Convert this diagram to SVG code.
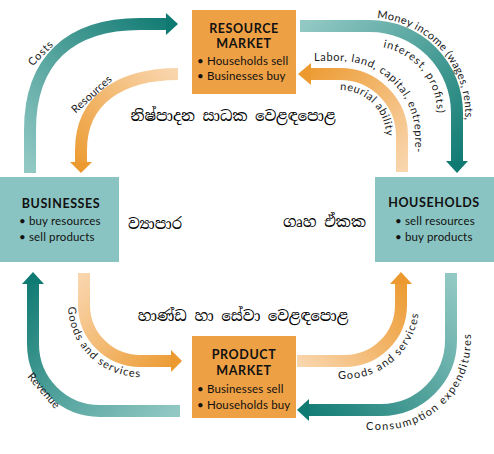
<svg xmlns="http://www.w3.org/2000/svg" width="494" height="454" viewBox="0 0 494 454">
<defs>
<style>
.bo{fill:#eea045}
.bt{fill:#8ac4c2}
.ttl{font-family:Lato,"Open Sans",sans-serif;font-weight:bold;font-size:12.5px;letter-spacing:0.6px;fill:#111;text-anchor:middle}
.itm{font-family:Lato,"Open Sans",sans-serif;font-size:11.5px;letter-spacing:0.15px;fill:#111}
.lbl{font-family:Lato,"Open Sans",sans-serif;font-size:11px;fill:#1a1a1a}
.si{font-family:"Iskoola Pota","Noto Serif Sinhala","Noto Sans Sinhala","LKLUG",serif;font-size:15px;fill:#000}
.band{fill:none;stroke-width:12}
</style>
<linearGradient id="gCosts" gradientUnits="userSpaceOnUse" x1="30" y1="173" x2="178" y2="24"><stop offset="0" stop-color="#93c9c5"/><stop offset="1" stop-color="#0f7a72"/></linearGradient>
<linearGradient id="gMoney" gradientUnits="userSpaceOnUse" x1="300" y1="26" x2="457" y2="172"><stop offset="0" stop-color="#93c9c5"/><stop offset="1" stop-color="#0f7a72"/></linearGradient>
<linearGradient id="gCons" gradientUnits="userSpaceOnUse" x1="451" y1="273" x2="297" y2="411"><stop offset="0" stop-color="#93c9c5"/><stop offset="1" stop-color="#0f7a72"/></linearGradient>
<linearGradient id="gRev" gradientUnits="userSpaceOnUse" x1="180" y1="411" x2="33" y2="273"><stop offset="0" stop-color="#93c9c5"/><stop offset="1" stop-color="#0f7a72"/></linearGradient>
<linearGradient id="gRes" gradientUnits="userSpaceOnUse" x1="178" y1="74" x2="81" y2="173"><stop offset="0" stop-color="#f9d6ae"/><stop offset="1" stop-color="#ec9a30"/></linearGradient>
<linearGradient id="gLab" gradientUnits="userSpaceOnUse" x1="402" y1="172" x2="298" y2="74"><stop offset="0" stop-color="#f9d6ae"/><stop offset="1" stop-color="#ec9a30"/></linearGradient>
<linearGradient id="gGL" gradientUnits="userSpaceOnUse" x1="84" y1="273" x2="182" y2="361"><stop offset="0" stop-color="#f9d6ae"/><stop offset="1" stop-color="#ec9a30"/></linearGradient>
<linearGradient id="gGR" gradientUnits="userSpaceOnUse" x1="297" y1="361" x2="401" y2="273"><stop offset="0" stop-color="#f9d6ae"/><stop offset="1" stop-color="#ec9a30"/></linearGradient>
<path id="tpMoney" d="M300,18 L370,18 A95,95 0 0 1 465,113 L465,180"/>
<path id="tpInt" d="M370,46 A67,67 0 0 1 437,113 L437,180"/>
<path id="tpLab" d="M300,61 L340,61 A75,75 0 0 1 415,136 L415,180"/>
<path id="tpNeu" d="M340,90 A46,46 0 0 1 386,136 L386,180"/>
<path id="tpGL" d="M68,273 L68,305 A72,72 0 0 0 140,377 L190,377"/>
<path id="tpGR" d="M297,379 L345,379 A74,74 0 0 0 419,305 L419,260"/>
<path id="tpCons" d="M300,430 L381,430 A90,90 0 0 0 471,340 L471,250"/>
</defs>

<g id="connectors">
  <g id="costs">
    <path class="band" stroke="url(#gCosts)" d="M30,173 L30,130 C30,60 70,24 140,24 L167,24"/>
    <polygon points="178,24 166,13 166,35" fill="#0f7a72"/>
    <text class="lbl" transform="translate(43,56) rotate(-45)" text-anchor="middle" textLength="30" lengthAdjust="spacing">Costs</text>
  </g>
  <g id="resources">
    <path class="band" stroke="url(#gRes)" d="M178,74 C120,74 81,100 81,150 L81,162"/>
    <polygon points="81,173 70,162 92,162" fill="#ec9a30"/>
    <text class="lbl" transform="translate(94,97) rotate(-42)" text-anchor="middle" textLength="50" lengthAdjust="spacing">Resources</text>
  </g>
  <g id="money">
    <path class="band" stroke="url(#gMoney)" d="M300,26 L370,26 A87,87 0 0 1 457,113 L457,162"/>
    <polygon points="457,173 446,161 468,161" fill="#0f7a72"/>
    <text class="lbl"><textPath href="#tpMoney" startOffset="77" textLength="149" lengthAdjust="spacing">Money income (wages, rents,</textPath></text>
    <text class="lbl"><textPath href="#tpInt" startOffset="13" textLength="92" lengthAdjust="spacing">interest, profits)</textPath></text>
  </g>
  <g id="labor">
    <path class="band" stroke="url(#gLab)" d="M402,172 L402,136 A62,62 0 0 0 340,74 L310,74"/>
    <polygon points="298,74 311,63 311,85" fill="#ec9a30"/>
    <text class="lbl"><textPath href="#tpLab" startOffset="14" textLength="160" lengthAdjust="spacing">Labor, land, capital, entrepre-</textPath></text>
    <text class="lbl"><textPath href="#tpNeu" startOffset="0" textLength="72" lengthAdjust="spacing">neurial ability</textPath></text>
  </g>
  <g id="goods-left">
    <path class="band" stroke="url(#gGL)" d="M84,273 L84,305 A56,56 0 0 0 140,361 L172,361"/>
    <polygon points="182,361 171,350 171,372" fill="#ec9a30"/>
    <text class="lbl"><textPath href="#tpGL" startOffset="34" textLength="111" lengthAdjust="spacing">Goods and services</textPath></text>
  </g>
  <g id="revenue">
    <path class="band" stroke="url(#gRev)" d="M180,411 L100,411 A67,67 0 0 1 33,344 L33,283"/>
    <polygon points="33,272 22,284 44,284" fill="#0f7a72"/>
    <text class="lbl" transform="translate(41,393) rotate(49)" text-anchor="middle" textLength="43" lengthAdjust="spacing">Revenue</text>
  </g>
  <g id="goods-right">
    <path class="band" stroke="url(#gGR)" d="M297,361 L345,361 A56,56 0 0 0 401,305 L401,283"/>
    <polygon points="401,272 390,284 412,284" fill="#ec9a30"/>
    <text class="lbl"><textPath href="#tpGR" startOffset="41" textLength="114" lengthAdjust="spacing">Goods and services</textPath></text>
  </g>
  <g id="consumption">
    <path class="band" stroke="url(#gCons)" d="M451,273 L451,340 A70,70 0 0 1 381,410 L308,410"/>
    <polygon points="297,410 309,399 309,421" fill="#0f7a72"/>
    <text class="lbl"><textPath href="#tpCons" startOffset="66" textLength="162" lengthAdjust="spacing">Consumption expenditures</textPath></text>
  </g>
</g>

<g id="resource-market">
  <rect class="bo" x="192" y="10" width="104" height="84"/>
  <text class="ttl" x="244" y="33">RESOURCE</text>
  <text class="ttl" x="244" y="48">MARKET</text>
  <text class="itm" x="197" y="65">• Households sell</text>
  <text class="itm" x="197" y="80">• Businesses buy</text>
</g>
<g id="product-market">
  <rect class="bo" x="192" y="336" width="104" height="82"/>
  <text class="ttl" x="244" y="359">PRODUCT</text>
  <text class="ttl" x="244" y="375">MARKET</text>
  <text class="itm" x="197" y="393">• Businesses sell</text>
  <text class="itm" x="197" y="409">• Households buy</text>
</g>
<g id="businesses">
  <rect class="bt" x="0" y="177" width="119" height="85"/>
  <text class="ttl" x="61" y="208">BUSINESSES</text>
  <text class="itm" x="19" y="225">• buy resources</text>
  <text class="itm" x="19" y="241">• sell products</text>
</g>
<g id="households">
  <rect class="bt" x="375" y="177" width="119" height="85"/>
  <text class="ttl" x="434" y="207">HOUSEHOLDS</text>
  <text class="itm" x="395" y="225">• sell resources</text>
  <text class="itm" x="395" y="241">• buy products</text>
</g>

<g id="sinhala-labels">
  <text class="si" x="233" y="121" text-anchor="middle">නිෂ්පාදන සාධක වෙළඳපොළ</text>
  <text class="si" x="243" y="321" text-anchor="middle">හාණ්ඩ හා සේවා වෙළඳපොළ</text>
  <text class="si" x="128" y="229">ව්‍යාපාර</text>
  <text class="si" x="283" y="227">ගෘහ ඒකක</text>
</g>
</svg>
